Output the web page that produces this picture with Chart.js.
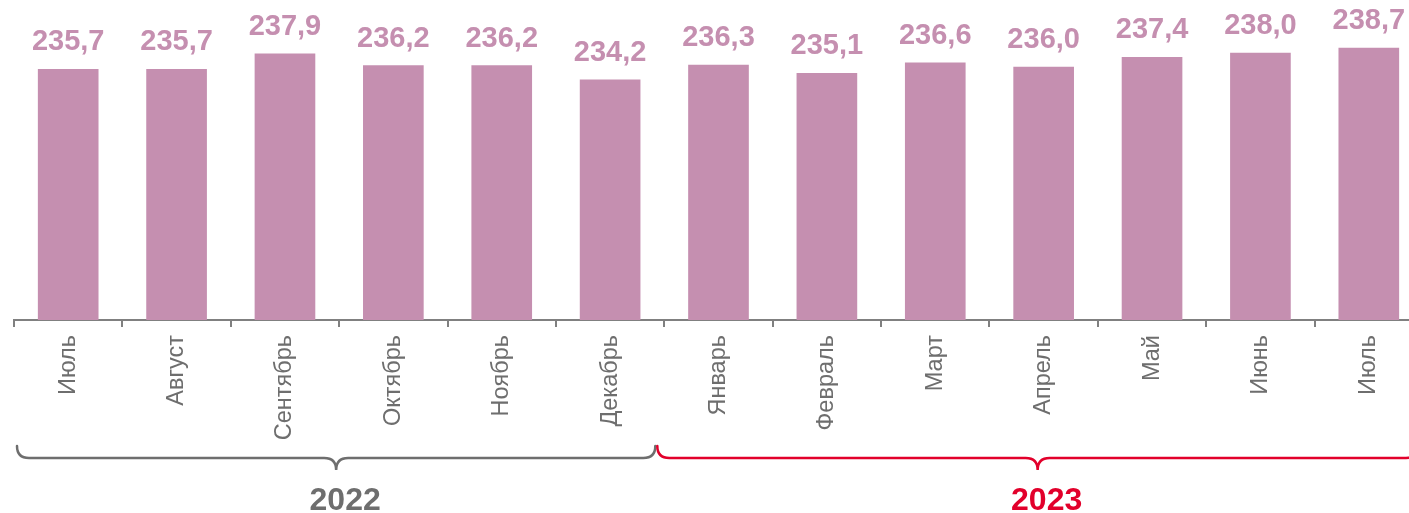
<!DOCTYPE html>
<html>
<head>
<meta charset="utf-8">
<script src="https://cdn.jsdelivr.net/npm/chart.js@4/dist/chart.umd.min.js"></script>
<style>
  html, body { margin: 0; padding: 0; background: #ffffff; overflow: hidden; }
  #wrap { width: 1424px; height: 513px; position: relative; }
</style>
</head>
<body>
<div id="wrap"><canvas id="c" width="1424" height="513"></canvas></div>
<script>
const categories = ['Июль','Август','Сентябрь','Октябрь','Ноябрь','Декабрь','Январь','Февраль','Март','Апрель','Май','Июнь','Июль'];
const values = [235.7, 235.7, 237.9, 236.2, 236.2, 234.2, 236.3, 235.1, 236.6, 236.0, 237.4, 238.0, 238.7];
const groupLabels = ['2022', '2023'];
const groupSizes = [6, 7];

const FONT = 'Arial, "Liberation Sans", sans-serif';
const BAR = '#C58FB0';
const GREY = '#6E6E6E';
const RED = '#E2002B';

const valueLabels = {
  id: 'valueLabels',
  afterDatasetsDraw(chart) {
    const ctx = chart.ctx;
    const meta = chart.getDatasetMeta(0);
    ctx.save();
    ctx.font = 'bold 29px ' + FONT;
    ctx.fillStyle = BAR;
    ctx.textAlign = 'center';
    ctx.textBaseline = 'alphabetic';
    meta.data.forEach((bar, i) => {
      const txt = values[i].toFixed(1).replace('.', ',');
      ctx.fillText(txt, bar.x, bar.y - 19);
    });
    ctx.restore();
  }
};

const braces = {
  id: 'braces',
  afterDraw(chart) {
    const ctx = chart.ctx;
    const xs = chart.scales.x;
    const half = (xs.getPixelForValue(1) - xs.getPixelForValue(0)) / 2;
    const y = 458;
    const colors = [GREY, RED];
    const insets = [[3, -9], [-7, -5]];
    let start = 0;
    groupSizes.forEach((n, g) => {
      const lb = xs.getPixelForValue(start) - half;
      const rb = xs.getPixelForValue(start + n - 1) + half;
      const x1 = lb + insets[g][0];
      const x2 = rb + insets[g][1];
      const cx = (x1 + x2) / 2;
      const r = 12;
      ctx.save();
      ctx.strokeStyle = colors[g];
      ctx.lineWidth = 2.5;
      ctx.lineCap = 'round';
      ctx.beginPath();
      ctx.moveTo(x1, y - r);
      ctx.quadraticCurveTo(x1, y, x1 + r, y);
      ctx.lineTo(cx - r, y);
      ctx.quadraticCurveTo(cx, y, cx, y + r);
      ctx.quadraticCurveTo(cx, y, cx + r, y);
      ctx.lineTo(x2 - r, y);
      ctx.quadraticCurveTo(x2, y, x2, y - r);
      ctx.stroke();
      ctx.font = 'bold 32px ' + FONT;
      ctx.fillStyle = colors[g];
      ctx.textAlign = 'center';
      ctx.textBaseline = 'alphabetic';
      ctx.fillText(groupLabels[g], cx + 9, 510);
      ctx.restore();
      start += n;
    });
  }
};

new Chart(document.getElementById('c'), {
  type: 'bar',
  data: {
    labels: categories,
    datasets: [{
      data: values,
      backgroundColor: BAR,
      borderWidth: 0,
      barThickness: 60
    }]
  },
  options: {
    responsive: false,
    animation: false,
    devicePixelRatio: 1,
    layout: { padding: { left: 14, right: 1, top: 39, bottom: 0 } },
    plugins: { legend: { display: false }, tooltip: { enabled: false } },
    scales: {
      y: {
        display: false,
        min: 200,
        max: 240
      },
      x: {
        afterFit(scale) { scale.height = 193; },
        border: { display: true, color: '#808080', width: 2 },
        grid: {
          offset: true,
          drawOnChartArea: false,
          drawTicks: true,
          tickLength: 7,
          color: '#808080',
          lineWidth: 2
        },
        ticks: {
          minRotation: 90,
          maxRotation: 90,
          padding: 8,
          color: GREY,
          font: { family: FONT, size: 23.5 }
        }
      }
    }
  },
  plugins: [valueLabels, braces]
});
</script>
</body>
</html>
